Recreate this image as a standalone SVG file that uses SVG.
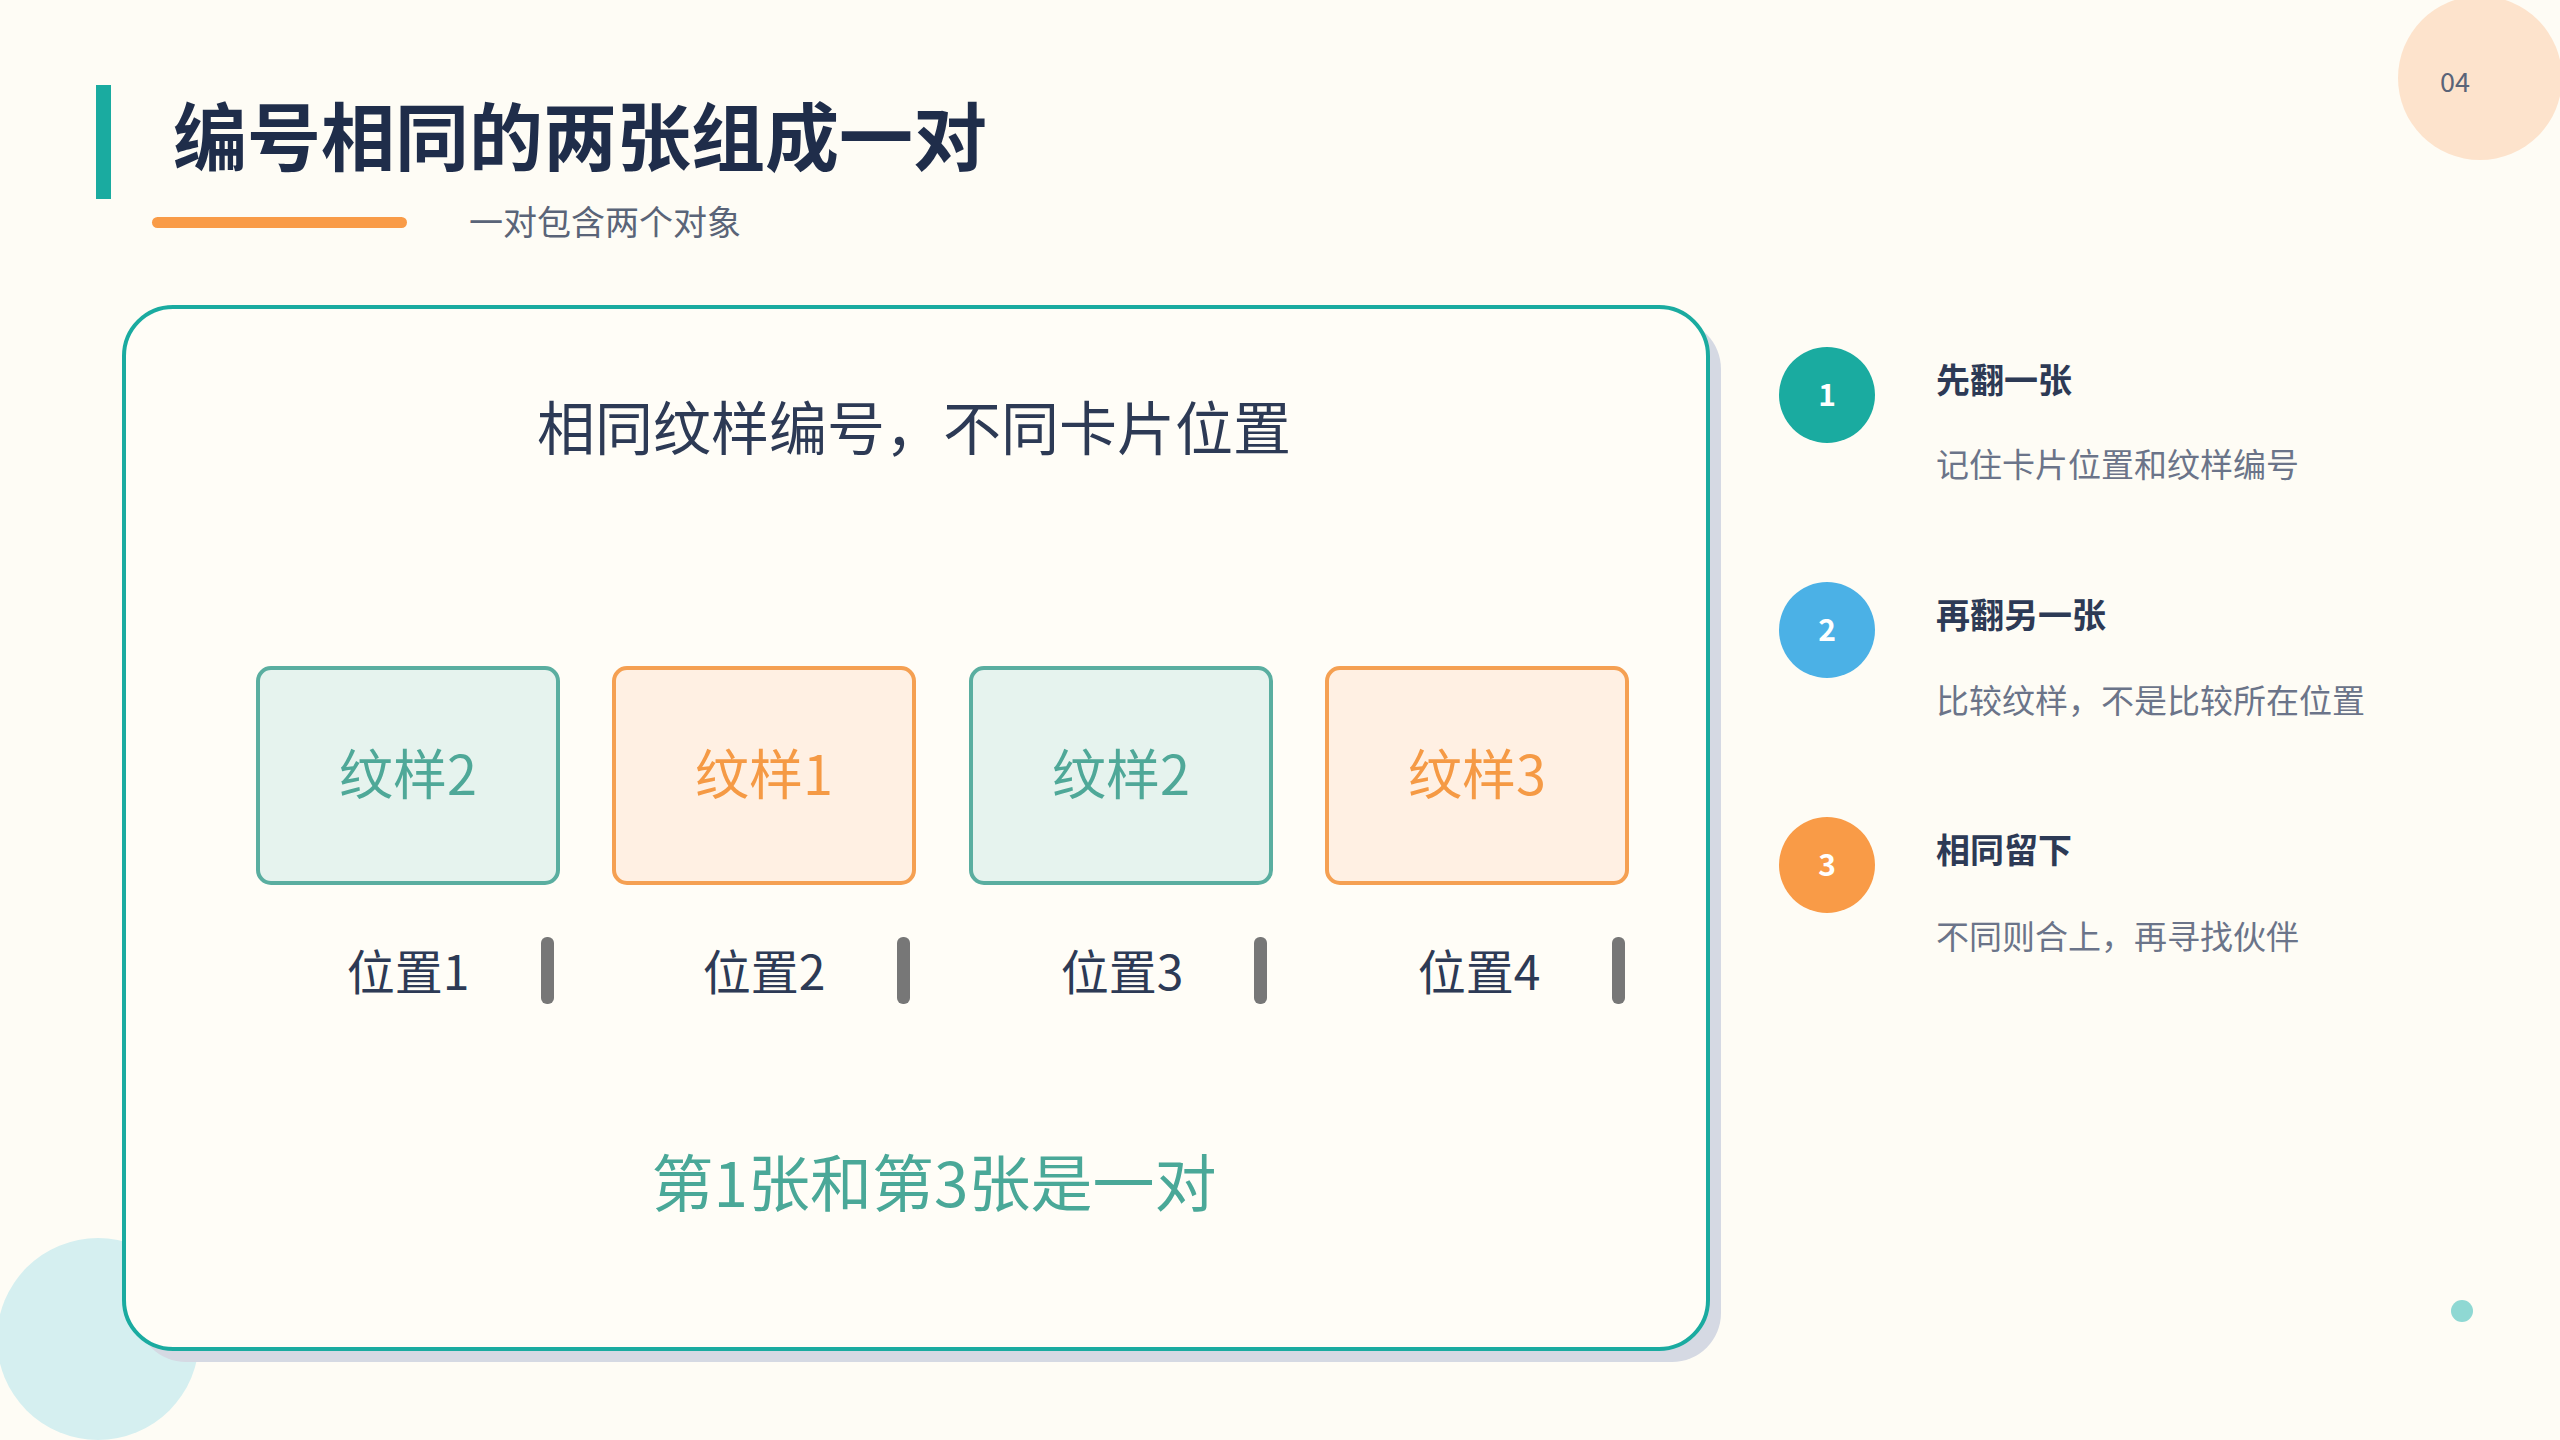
<svg xmlns="http://www.w3.org/2000/svg" width="2560" height="1440" viewBox="0 0 2560 1440">
<style>
text{font-family:"Noto Sans CJK SC","Noto Sans",sans-serif}
.card-g{fill:#e6f3ee;stroke:#5aaea0;stroke-width:4}
.card-o{fill:#fff0e3;stroke:#f5a052;stroke-width:4}
.ct{font-size:54px;text-anchor:middle}
.lbl{font-size:48px;fill:#2d3a55;text-anchor:middle}
.bar{fill:#777}
.st{font-size:34px;font-weight:bold;fill:#2d3a55}
.sd{font-size:33px;fill:#6b7489}
.num{font-size:30px;font-weight:bold;fill:#fff;text-anchor:middle}
</style>
<rect width="2560" height="1440" fill="#fefcf5"/>
<circle cx="2480" cy="78" r="82" fill="#fde3cc"/>
<text x="2455" y="92" font-size="27" fill="#5a6478" text-anchor="middle">04</text>
<circle cx="98" cy="1339" r="101" fill="#d5eff0"/>
<circle cx="2462" cy="1311" r="11" fill="#8fd8d3"/>
<g id="title">
<rect x="96" y="85" width="15" height="114" fill="#1aaba0"/>
<text x="173" y="165" font-size="74" font-weight="bold" fill="#1f2d4a">编号相同的两张组成一对</text>
<rect x="152" y="217" width="255" height="11" rx="5.5" fill="#f99b47"/>
<text x="469" y="235" font-size="34" fill="#5a6478">一对包含两个对象</text>
</g>
<g id="panel">
<rect x="137" y="320" width="1584" height="1042" rx="49" fill="#d5d9e3"/>
<rect x="124" y="307" width="1584" height="1042" rx="49" fill="#fffdf7" stroke="#1aaba0" stroke-width="4"/>
<text x="914" y="450" font-size="58" fill="#2d3a55" text-anchor="middle">相同纹样编号，不同卡片位置</text>
</g>
<g id="card1"><rect class="card-g" x="258" y="668" width="300" height="215" rx="13"/><text class="ct" x="408" y="795" fill="#4fa898">纹样2</text></g>
<g id="card2"><rect class="card-o" x="614" y="668" width="300" height="215" rx="13"/><text class="ct" x="764" y="795" fill="#f59a45">纹样1</text></g>
<g id="card3"><rect class="card-g" x="971" y="668" width="300" height="215" rx="13"/><text class="ct" x="1121" y="795" fill="#4fa898">纹样2</text></g>
<g id="card4"><rect class="card-o" x="1327" y="668" width="300" height="215" rx="13"/><text class="ct" x="1477" y="795" fill="#f59a45">纹样3</text></g>
<g id="pos1"><text class="lbl" x="408" y="990">位置1</text><rect class="bar" x="541" y="937" width="13" height="67" rx="6"/></g>
<g id="pos2"><text class="lbl" x="764" y="990">位置2</text><rect class="bar" x="897" y="937" width="13" height="67" rx="6"/></g>
<g id="pos3"><text class="lbl" x="1122" y="990">位置3</text><rect class="bar" x="1254" y="937" width="13" height="67" rx="6"/></g>
<g id="pos4"><text class="lbl" x="1479" y="990">位置4</text><rect class="bar" x="1612" y="937" width="13" height="67" rx="6"/></g>
<g id="result"><text x="934" y="1207" font-size="62" fill="#4aa898" text-anchor="middle">第1张和第3张是一对</text></g>
<g id="connectors"></g>
<g id="step1"><circle cx="1827" cy="395" r="48" fill="#1aaba0"/><text class="num" x="1827" y="406">1</text>
<text class="st" x="1936" y="393">先翻一张</text><text class="sd" x="1936" y="477">记住卡片位置和纹样编号</text></g>
<g id="step2"><circle cx="1827" cy="630" r="48" fill="#4bb1e6"/><text class="num" x="1827" y="641">2</text>
<text class="st" x="1936" y="628">再翻另一张</text><text class="sd" x="1936" y="713">比较纹样，不是比较所在位置</text></g>
<g id="step3"><circle cx="1827" cy="865" r="48" fill="#f99b47"/><text class="num" x="1827" y="876">3</text>
<text class="st" x="1936" y="863">相同留下</text><text class="sd" x="1936" y="949">不同则合上，再寻找伙伴</text></g>
</svg>
